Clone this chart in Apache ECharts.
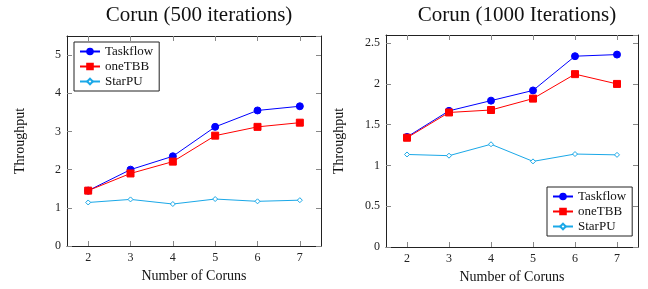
<!DOCTYPE html>
<html>
<head>
<meta charset="utf-8">
<script src="https://cdn.jsdelivr.net/npm/echarts@6/dist/echarts.min.js"></script>
<style>
  html, body { margin: 0; padding: 0; background: #fff; }
  #chart { width: 648px; height: 289px; }
</style>
</head>
<body>
<div id="chart"></div>
<script>
// data
var coruns = ['2', '3', '4', '5', '6', '7'];

var taskflow500 = [1.45, 2.0, 2.35, 3.12, 3.55, 3.66];
var onetbb500 = [1.45, 1.9, 2.21, 2.89, 3.12, 3.23];
var starpu500 = [1.14, 1.22, 1.10, 1.23, 1.17, 1.20];

var taskflow1000 = [1.35, 1.67, 1.795, 1.92, 2.34, 2.36];
var onetbb1000 = [1.34, 1.65, 1.68, 1.82, 2.12, 2.0];
var starpu1000 = [1.135, 1.12, 1.26, 1.05, 1.14, 1.13];

var font = '"Liberation Serif", "DejaVu Serif", serif';
var blue = '#0000ff', red = '#ff0000', cyan = '#1aa8e8';

var dom = document.getElementById('chart');
var myChart = echarts.init(dom);

function xAx(grid, bottom) {
    return {
        type: 'category',
        gridIndex: grid,
        position: bottom ? 'bottom' : 'top',
        data: coruns,
        boundaryGap: true,
        name: bottom ? 'Number of Coruns' : '',
        nameLocation: 'middle',
        nameGap: 23,
        nameTextStyle: { fontFamily: font, fontSize: 14, color: '#111' },
        axisLine: { show: true, onZero: false, lineStyle: { color: '#222', width: 1 } },
        axisTick: { show: true, inside: true, alignWithLabel: true, length: 5, lineStyle: { color: '#888' } },
        axisLabel: { show: bottom, margin: 6, fontFamily: font, fontSize: 12, color: '#222' },
        splitLine: { show: false }
    };
}

function yAx(grid, left, max, step) {
    return {
        type: 'value',
        gridIndex: grid,
        position: left ? 'left' : 'right',
        min: 0,
        max: max,
        interval: step,
        name: left ? 'Throughput' : '',
        nameLocation: 'middle',
        nameGap: 40,
        nameTextStyle: { fontFamily: font, fontSize: 14, color: '#111' },
        axisLine: { show: true, onZero: false, lineStyle: { color: '#222', width: 1 } },
        axisTick: { show: true, inside: true, length: 5, lineStyle: { color: '#888' } },
        axisLabel: { show: left, showMaxLabel: false, margin: 6, fontFamily: font, fontSize: 12, color: '#222' },
        splitLine: { show: false }
    };
}

function line(name, data, grid, color, symbol, size, fill) {
    return {
        name: name,
        type: 'line',
        xAxisIndex: grid * 2,
        yAxisIndex: grid * 2,
        data: data,
        symbol: symbol,
        symbolSize: size,
        showSymbol: true,
        lineStyle: { color: color, width: 1 },
        itemStyle: { color: fill, borderColor: color, borderWidth: 1 },
        emphasis: { disabled: true },
        animation: false
    };
}

var legendBase = {
    orient: 'vertical',
    backgroundColor: '#fff',
    borderColor: '#222',
    borderWidth: 1,
    borderRadius: 0,
    padding: [3, 6, 3, 5],
    itemGap: 2,
    itemWidth: 20,
    itemHeight: 7,
    textStyle: { fontFamily: font, fontSize: 13, color: '#111' },
    data: ['Taskflow', 'oneTBB', 'StarPU']
};

var option = {
    backgroundColor: '#fff',
    title: [
        { text: 'Corun (500 iterations)', left: 194, top: 0, textAlign: 'center',
          textStyle: { fontFamily: font, fontSize: 21, fontWeight: 'normal', color: '#111' } },
        { text: 'Corun (1000 Iterations)', left: 512, top: 0, textAlign: 'center',
          textStyle: { fontFamily: font, fontSize: 21, fontWeight: 'normal', color: '#111' } }
    ],
    legend: [
        Object.assign({}, legendBase, { left: 74, top: 42 }),
        Object.assign({}, legendBase, { left: 547, top: 187 })
    ],
    grid: [
        { left: 67, top: 36, width: 254, height: 210 },
        { left: 386, top: 35, width: 252, height: 212 }
    ],
    xAxis: [xAx(0, true), xAx(0, false), xAx(1, true), xAx(1, false)],
    yAxis: [yAx(0, true, 5.5, 1), yAx(0, false, 5.5, 1), yAx(1, true, 2.6, 0.5), yAx(1, false, 2.6, 0.5)],
    series: [
        line('Taskflow', taskflow500, 0, blue, 'circle', 7, blue),
        line('oneTBB', onetbb500, 0, red, 'rect', 7, red),
        line('StarPU', starpu500, 0, cyan, 'diamond', 5, '#fff'),
        line('Taskflow', taskflow1000, 1, blue, 'circle', 7, blue),
        line('oneTBB', onetbb1000, 1, red, 'rect', 7, red),
        line('StarPU', starpu1000, 1, cyan, 'diamond', 5, '#fff')
    ]
};

option && "object" == typeof option && myChart.setOption(option, true);
</script>
</body>
</html>
